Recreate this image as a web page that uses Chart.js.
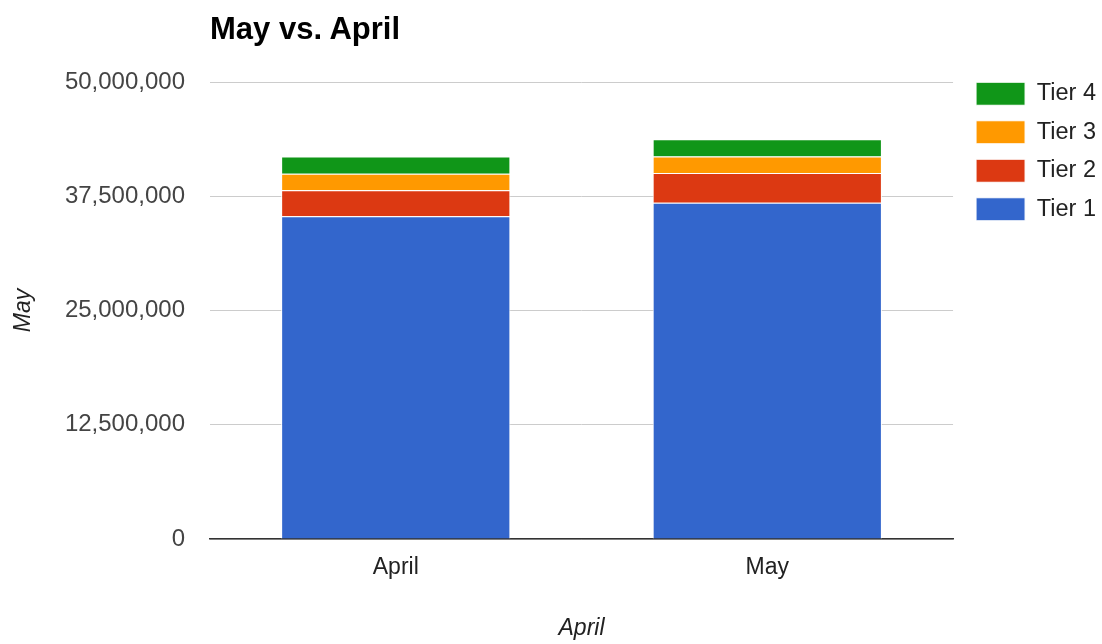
<!DOCTYPE html>
<html>
<head>
<meta charset="utf-8">
<script src="https://cdn.jsdelivr.net/npm/chart.js@4.4.1/dist/chart.umd.min.js"></script>
<style>
  body { margin: 0; background: #fff; }
  #wrap { position: relative; width: 1102px; height: 644px; }
  #title { position: absolute; left: 210px; top: 11px; font: bold 31px "Liberation Sans", Arial, sans-serif; color: #000; }
</style>
</head>
<body>
<div id="wrap">
  <div id="title">May vs. April</div>
  <canvas id="myChart" width="1102" height="644"></canvas>
</div>
<script>
const categories = ["April", "May"];
const tier1 = [35300000, 36800000];
const tier2 = [2850000, 3250000];
const tier3 = [1800000, 1800000];
const tier4 = [1900000, 1900000];
const yTicks = [0, 12500000, 25000000, 37500000, 50000000];

const font = '"Liberation Sans", Arial, sans-serif';
Chart.defaults.font.family = font;
Chart.defaults.font.size = 23;
Chart.defaults.color = "#444";

const mk = (label, data, color) => ({
    label: label,
    data: data,
    backgroundColor: color,
    borderColor: "#fff",
    borderWidth: 1,
    barPercentage: 0.617,
    categoryPercentage: 1
});

// nudge the legend so it sits level with the top gridline like the original
const legendNudge = {
    id: "legendNudge",
    afterLayout(chart) {
        const lg = chart.legend;
        lg.left += 8;
        lg.right += 8;
        lg.top -= 15;
        lg.bottom -= 15;
    }
};

const config = {
    type: "bar",
    data: {
        labels: categories,
        datasets: [
            mk("Tier 1", tier1, "#3366cc"),
            mk("Tier 2", tier2, "#dc3912"),
            mk("Tier 3", tier3, "#ff9900"),
            mk("Tier 4", tier4, "#109618")
        ]
    },
    options: {
        responsive: false,
        animation: false,
        layout: { padding: { top: 82, right: 4, left: 0, bottom: 0 } },
        plugins: {
            tooltip: { enabled: false },
            legend: {
                position: "right",
                align: "start",
                reverse: true,
                labels: {
                    boxWidth: 49,
                    boxHeight: 23,
                    padding: 15,
                    color: "#222",
                    font: { size: 23.5 }
                }
            }
        },
        scales: {
            x: {
                stacked: true,
                grid: { display: false, drawTicks: false },
                border: { color: "#333", width: 1.5 },
                ticks: { padding: 15, color: "#222" },
                title: { display: true, text: "April", color: "#222", font: { style: "italic", size: 23 }, padding: { top: 0, bottom: 2 } },
                afterFit: s => { s.height = 105; }
            },
            y: {
                stacked: true,
                min: 0,
                max: 50000000,
                afterBuildTicks: s => { s.ticks = yTicks.map(v => ({ value: v })); },
                grid: { color: "#ccc", drawTicks: false },
                border: { display: false },
                ticks: { padding: 25, font: { size: 24 }, callback: v => v.toLocaleString("en-US") },
                title: { display: true, text: "May", color: "#222", font: { style: "italic", size: 23 }, padding: { top: 10, bottom: 0 } },
                afterFit: s => { s.width = 210; }
            }
        }
    },
    plugins: [legendNudge]
};

new Chart(document.getElementById("myChart").getContext("2d"), config);
</script>
</body>
</html>
